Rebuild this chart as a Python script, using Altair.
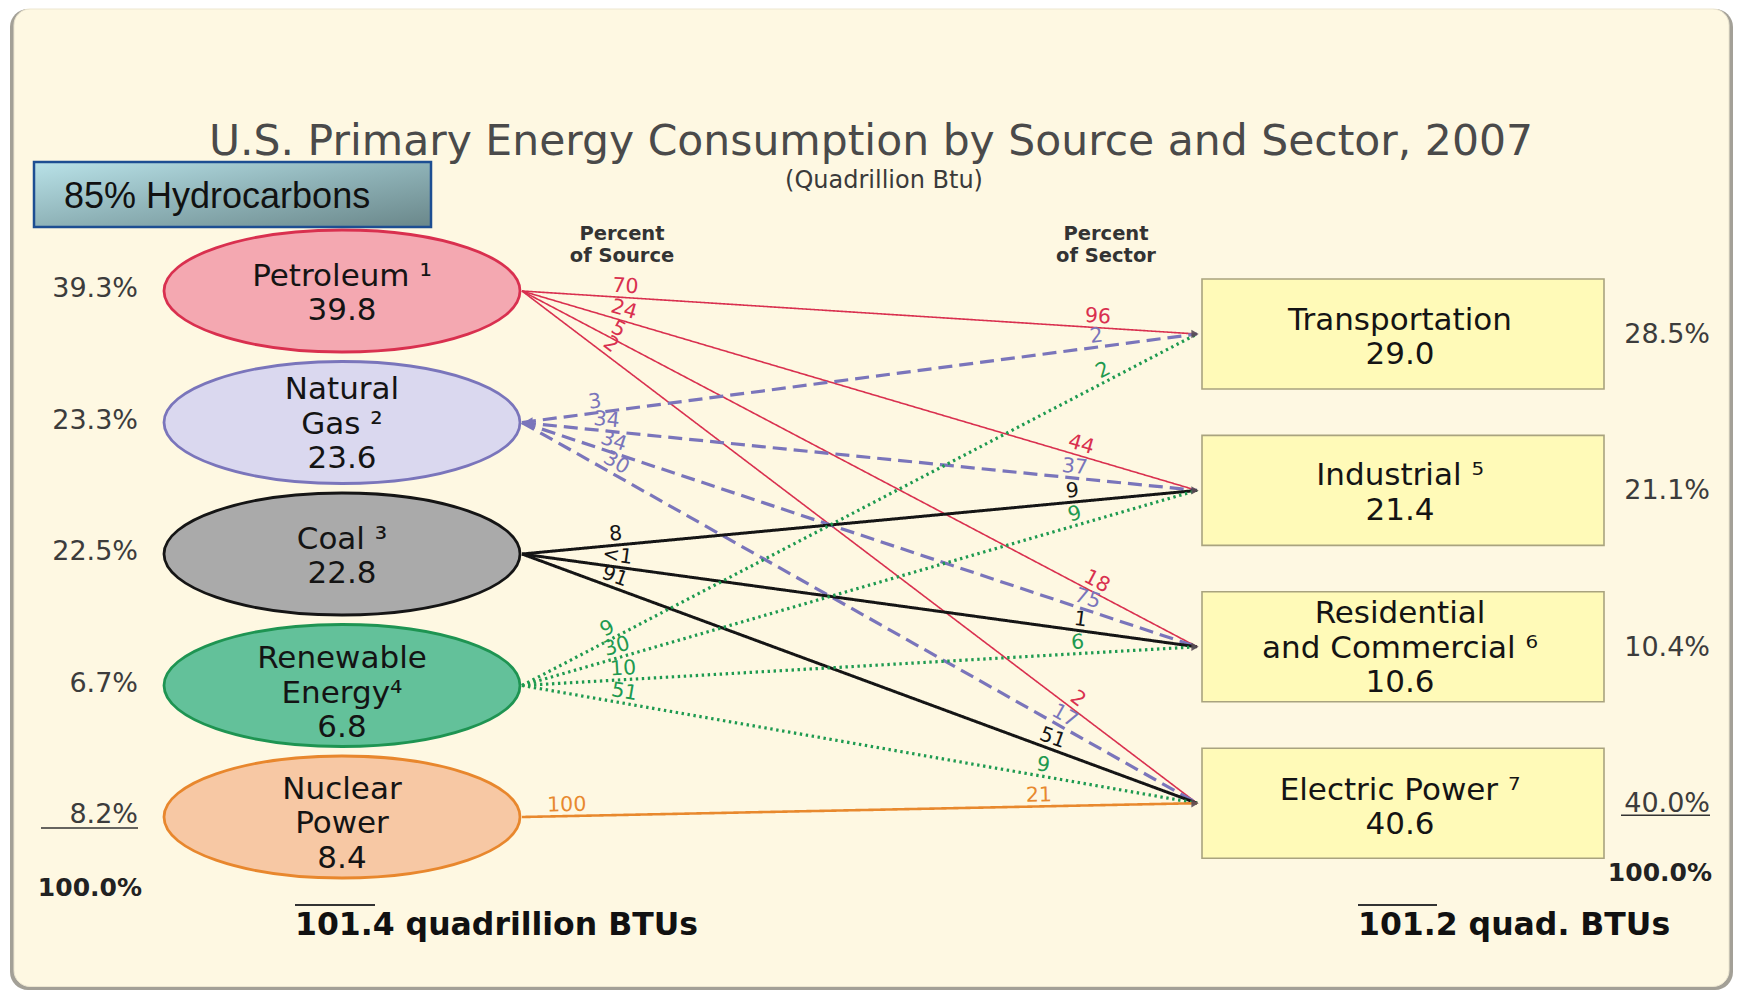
import math
import altair as alt
import pandas as pd

# ------------------------------------------------------------------ data
title = "U.S. Primary Energy Consumption by Source and Sector, 2007"
subtitle = "(Quadrillion Btu)"
callout = "85% Hydrocarbons"
header_source = "Percent\nof Source"
header_sector = "Percent\nof Sector"

sources = ["Petroleum", "Natural Gas", "Coal", "Renewable Energy", "Nuclear Power"]
source_name_lines = [["Petroleum ¹"], ["Natural", "Gas ²"], ["Coal ³"],
                     ["Renewable", "Energy⁴"], ["Nuclear", "Power"]]
source_values = [39.8, 23.6, 22.8, 6.8, 8.4]
source_share = [39.3, 23.3, 22.5, 6.7, 8.2]
source_total = 101.4
source_total_unit = "quadrillion BTUs"

sectors = ["Transportation", "Industrial", "Residential and Commercial", "Electric Power"]
sector_name_lines = [["Transportation"], ["Industrial ⁵"],
                     ["Residential", "and Commercial ⁶"], ["Electric Power ⁷"]]
sector_values = [29.0, 21.4, 10.6, 40.6]
sector_share = [28.5, 21.1, 10.4, 40.0]
sector_total = 101.2
sector_total_unit = "quad. BTUs"
share_total = 100.0

flow_source = [0, 0, 0, 0, 1, 1, 1, 1, 2, 2, 2, 3, 3, 3, 3, 4]
flow_sector = [0, 1, 2, 3, 0, 1, 2, 3, 1, 2, 3, 0, 1, 2, 3, 3]
pct_of_source = ["70", "24", "5", "2", "3", "34", "34", "30", "8", "<1", "91",
                 "9", "30", "10", "51", "100"]
pct_of_sector = ["96", "44", "18", "2", "2", "37", "75", "17", "9", "1", "51",
                 "2", "9", "6", "9", "21"]

# ------------------------------------------------------------------ styles
src_fill = ["#F4A8B1", "#DAD8EF", "#AAAAAA", "#63C19A", "#F7C8A4"]
src_stroke = ["#D9304F", "#7A75BB", "#151515", "#1E9452", "#E8872D"]
line_color = ["#D9304F", "#7A75BB", "#151515", "#1E9A50", "#E8892E"]
line_width = [1.6, 3.2, 3.0, 3.2, 2.6]
line_dash = [[1, 0], [14, 7], [1, 0], [2.4, 3.6], [1, 0]]
FONT = "DejaVu Sans"

# ------------------------------------------------------------------ layout
W, H = 1725, 982
OX, OY = 8, 8
SRC_CX, SRC_Y0, SRC_DY, RX, RY = 342, 291, 131.5, 178, 61
BOX_X0, BOX_X1, BOX_Y0, BOX_DY, BOX_H = 1202, 1604, 334, 156.4, 110
LINE_X0 = SRC_CX + RX + 2
LINE_X1 = BOX_X0 - 5
LH = 34.5
src_cy = [SRC_Y0 + i * SRC_DY for i in range(len(sources))]
sec_cy = [BOX_Y0 + i * BOX_DY for i in range(len(sectors))]
sec_cx = (BOX_X0 + BOX_X1) / 2 - 3
src_text_shift = [3, 2, 3, 8, 7]
sec_text_shift = [4, 3, 2, 5]
src_d_base = [103, 75, 95, 102, 45]
src_d_step = [0, 9, 0, 0, 0]
sec_d = [100, 124, 119, 158]
NOFF = 11

xs = alt.Scale(domain=[OX, OX + W], nice=False, zero=False)
ys = alt.Scale(domain=[OY, OY + H], nice=False, zero=False, reverse=True)


def ex(f):
    return alt.X(f"{f}:Q", scale=xs, axis=None)


def ey(f):
    return alt.Y(f"{f}:Q", scale=ys, axis=None)


def rect(df, **kw):
    return alt.Chart(df).mark_rect(**kw).encode(
        x=ex("x"), x2=alt.X2("x2:Q"), y=ey("y"), y2=alt.Y2("y2:Q"))


def texts(df, angle=False, **kw):
    enc = dict(x=ex("x"), y=ey("y"), text=alt.Text("t:N"))
    if angle:
        enc["angle"] = alt.Angle("a:Q", scale=None)
    if "c" in df.columns:
        enc["color"] = alt.Color("c:N", scale=None)
    base = dict(font=FONT, align="center", baseline="middle")
    base.update(kw)
    return alt.Chart(df).mark_text(**base).encode(**enc)


layers = []

# frame
layers.append(rect(pd.DataFrame([{"x": 10, "x2": 1733, "y": 9, "y2": 990}]),
                   fill="#A3A097", cornerRadius=18))
layers.append(rect(pd.DataFrame([{"x": 14, "x2": 1729, "y": 9, "y2": 986.5}]),
                   fill="#FEF8E2", cornerRadius=16, stroke="#ECE6D0", strokeWidth=1))

# title block
layers.append(texts(pd.DataFrame([{"x": 871, "y": 142, "t": title}]),
                    fontSize=42.5, color="#4A4A4A"))
layers.append(texts(pd.DataFrame([{"x": 884, "y": 181, "t": subtitle}]),
                    fontSize=24, color="#3A3A3A"))
hdr = pd.DataFrame([{"x": 622, "y": 234, "t": header_source},
                    {"x": 1106, "y": 234, "t": header_sector}])
layers.append(texts(hdr, fontSize=19.5, fontWeight="bold", color="#333333",
                    lineBreak="\n", lineHeight=22))

# flows
rows, lab = [], []
for k, (s, j) in enumerate(zip(flow_source, flow_sector)):
    x0, y0, x1, y1 = LINE_X0, src_cy[s], LINE_X1, sec_cy[j]
    rows.append({"fid": k, "ord": 0, "x": x0, "y": y0, "s": s})
    rows.append({"fid": k, "ord": 1, "x": x1, "y": y1, "s": s})
    th = math.atan2(y1 - y0, x1 - x0)
    c, sn = math.cos(th), math.sin(th)
    ang = math.degrees(th) % 360
    d0 = src_d_base[s] + src_d_step[s] * j
    lab.append({"x": x0 + d0 * c + NOFF * sn, "y": y0 + d0 * sn - NOFF * c,
                "t": pct_of_source[k], "a": ang, "c": line_color[s]})
    d1 = sec_d[j]
    lab.append({"x": x1 - d1 * c + NOFF * sn, "y": y1 - d1 * sn - NOFF * c,
                "t": pct_of_sector[k], "a": ang, "c": line_color[s]})
flows = pd.DataFrame(rows)
for s in range(len(sources)):
    layers.append(
        alt.Chart(flows[flows.s == s]).mark_line(
            color=line_color[s], strokeWidth=line_width[s], strokeDash=line_dash[s],
            strokeCap="butt").encode(
            x=ex("x"), y=ey("y"), detail="fid:N", order="ord:O"))
layers.append(texts(pd.DataFrame(lab), angle=True, fontSize=20.5))

# arrow tips
tips = [{"x": LINE_X1 - 2, "y": y} for y in sec_cy]
layers.append(alt.Chart(pd.DataFrame(tips)).mark_point(
    shape="triangle-right", filled=True, size=70, color="#5a4a55", opacity=0.9).encode(
    x=ex("x"), y=ey("y")))
layers.append(alt.Chart(pd.DataFrame([{"x": LINE_X0 + 6, "y": src_cy[1]}])).mark_point(
    shape="triangle-left", filled=True, size=110, color=line_color[1], opacity=1).encode(
    x=ex("x"), y=ey("y")))

# source ellipses
ell = pd.DataFrame({"x": [SRC_CX] * len(sources), "y": src_cy,
                    "f": src_fill, "st": src_stroke})
ratio = RY / RX
ellipse_path = f"M -1 0 A 1 {ratio:.4f} 0 1 1 1 0 A 1 {ratio:.4f} 0 1 1 -1 0 Z"
layers.append(alt.Chart(ell).mark_point(
    shape=ellipse_path, size=(2 * RX) ** 2, filled=True, opacity=1, strokeWidth=2.8).encode(
    x=ex("x"), y=ey("y"), fill=alt.Fill("f:N", scale=None),
    stroke=alt.Stroke("st:N", scale=None)))

# sector boxes
boxes = pd.DataFrame({"x": [BOX_X0] * 4, "x2": [BOX_X1] * 4,
                      "y": [c - BOX_H / 2 for c in sec_cy],
                      "y2": [c + BOX_H / 2 for c in sec_cy]})
layers.append(rect(boxes, fill="#FFFAB8", stroke="#A9A37F", strokeWidth=1.6))

# node labels
nl = []
for i, lines in enumerate(source_name_lines):
    allv = lines + [f"{source_values[i]:.1f}"]
    n = len(allv)
    for k, t in enumerate(allv):
        nl.append({"x": SRC_CX, "y": src_cy[i] + (k - (n - 1) / 2) * LH + src_text_shift[i],
                   "t": t})
for i, lines in enumerate(sector_name_lines):
    allv = lines + [f"{sector_values[i]:.1f}"]
    n = len(allv)
    for k, t in enumerate(allv):
        nl.append({"x": sec_cx, "y": sec_cy[i] + (k - (n - 1) / 2) * LH + sec_text_shift[i],
                   "t": t})
layers.append(texts(pd.DataFrame(nl), fontSize=31, color="#141414"))

# share columns
sh = [{"x": 138, "y": c - 2, "t": f"{v:.1f}%"} for c, v in zip(src_cy, source_share)]
sh += [{"x": 1710, "y": c + 1, "t": f"{v:.1f}%"} for c, v in zip(sec_cy, sector_share)]
layers.append(texts(pd.DataFrame(sh), align="right", fontSize=27, color="#3C3C3C"))
tot = [{"x": 142, "y": src_cy[-1] + 71, "t": f"{share_total:.1f}%"},
       {"x": 1712, "y": sec_cy[-1] + 70, "t": f"{share_total:.1f}%"}]
layers.append(texts(pd.DataFrame(tot), align="right", fontSize=25, fontWeight="bold",
                    color="#222222"))
ul = pd.DataFrame([{"x": 41, "x2": 138, "y": src_cy[-1] + 11},
                   {"x": 1621, "x2": 1710, "y": sec_cy[-1] + 12}])
layers.append(alt.Chart(ul).mark_rule(color="#333333", strokeWidth=1.6).encode(
    x=ex("x"), x2=alt.X2("x2:Q"), y=ey("y")))

# totals
bt = [{"x": 295, "y": 926, "t": f"{source_total:.1f} {source_total_unit}"},
      {"x": 1358, "y": 926, "t": f"{sector_total:.1f} {sector_total_unit}"}]
layers.append(texts(pd.DataFrame(bt), align="left", fontSize=31.5, fontWeight="bold",
                    color="#111111"))
ol = pd.DataFrame([{"x": 295, "x2": 375, "y": 905}, {"x": 1358, "x2": 1437, "y": 905}])
layers.append(alt.Chart(ol).mark_rule(color="#333333", strokeWidth=1.8).encode(
    x=ex("x"), x2=alt.X2("x2:Q"), y=ey("y")))

# callout box
grad = alt.Gradient(gradient="linear",
                    stops=[alt.GradientStop(color="#B9E2E8", offset=0),
                           alt.GradientStop(color="#8FB3B8", offset=0.5),
                           alt.GradientStop(color="#6A878A", offset=1)],
                    x1=0, y1=0, x2=1, y2=1)
layers.append(rect(pd.DataFrame([{"x": 34, "x2": 431, "y": 162, "y2": 227}]),
                   fill=grad, stroke="#1D4E92", strokeWidth=2.5))
layers.append(texts(pd.DataFrame([{"x": 64, "y": 197, "t": callout}]), align="left",
                    font="Liberation Sans", fontSize=36, color="#111111"))

chart = alt.layer(*layers).properties(
    width=W, height=H, padding=0,
    autosize=alt.AutoSizeParams(type="none"),
).configure_view(stroke=None)

chart.save("out.html", embed_options={"renderer": "svg", "actions": False})
